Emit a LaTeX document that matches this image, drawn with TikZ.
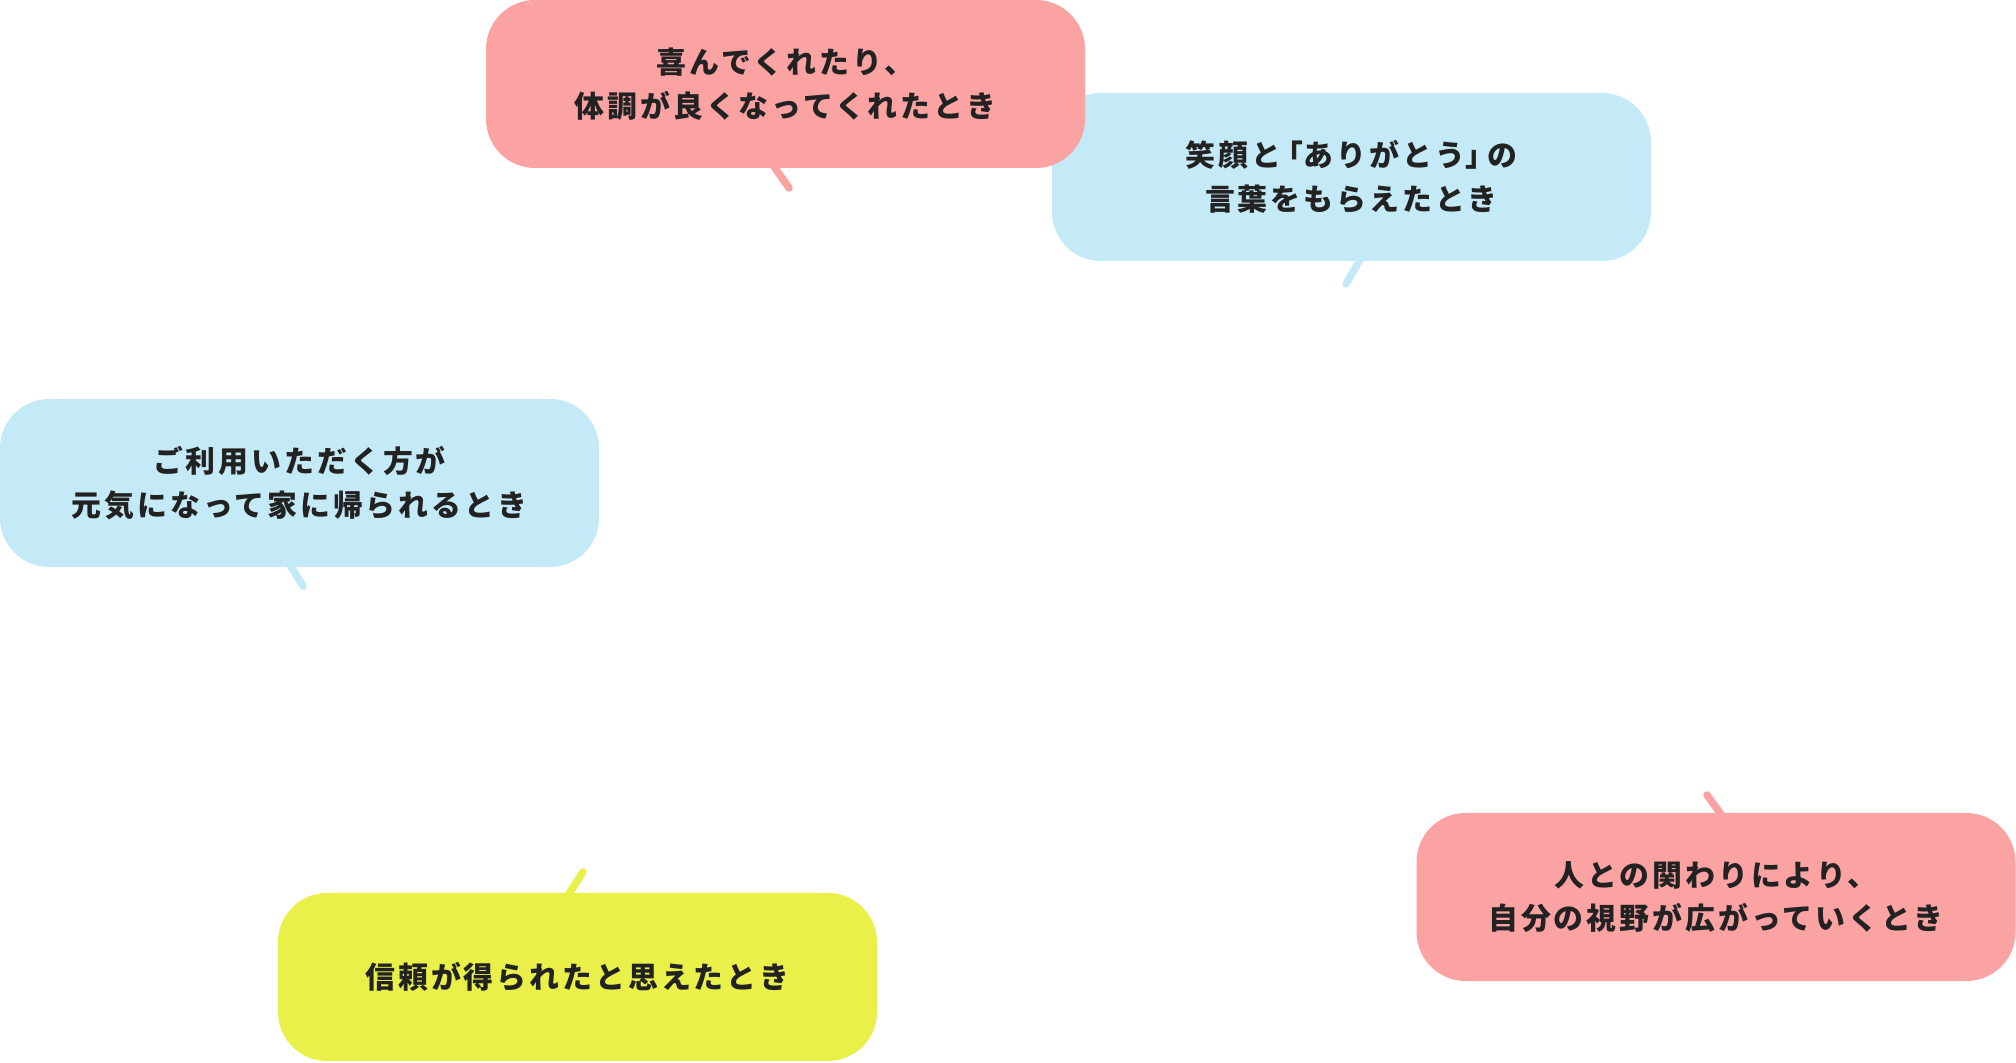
\documentclass[tikz,border=0pt]{standalone}
\usepackage{fontspec}
\newfontfamily\jpfont[LetterSpace=10]{Noto Sans CJK JP}
\newcommand{\halfbr}[1]{{\addfontfeature{RawFeature=+halt}#1}}
\definecolor{bubblepink}{HTML}{FBA2A2}
\definecolor{bubbleblue}{HTML}{C5EAF7}
\definecolor{bubbleyellow}{HTML}{E9F04A}
\definecolor{textdark}{HTML}{222222}
\tikzset{
	bubble/.style={rounded corners=0.98cm, minimum width=11.98cm, minimum height=3.36cm,
		inner sep=0pt, align=center, text=textdark,
		font=\jpfont\bfseries\fontsize{17}{24.8}\selectfont},
	tail/.style={line width=0.15cm, line cap=round}
}
\begin{document}
\begin{tikzpicture}
		\useasboundingbox (0,0) rectangle (40.32,21.24);
		
		% tails
		\coordinate (yorokobiIn) at (15.36,18.08);
		\coordinate (yorokobiOut) at (15.78,17.48);
		\coordinate (egaoIn) at (27.32,16.26);
		\coordinate (egaoOut) at (26.92,15.56);
		\coordinate (genkiIn) at (5.70,10.10);
		\coordinate (genkiOut) at (6.06,9.52);
		\coordinate (shinraiIn) at (11.26,3.18);
		\coordinate (shinraiOut) at (11.66,3.80);
		\coordinate (shiyaIn) at (34.56,4.76);
		\coordinate (shiyaOut) at (34.14,5.34);
		
		\draw [tail, bubblepink] (yorokobiIn) -- (yorokobiOut);
		\draw [tail, bubbleblue] (egaoIn) -- (egaoOut);
		\draw [tail, bubbleblue] (genkiIn) -- (genkiOut);
		\draw [tail, bubbleyellow] (shinraiIn) -- (shinraiOut);
		\draw [tail, bubblepink] (shiyaIn) -- (shiyaOut);
		
		% bubbles
		\node (egao) [bubble, fill=bubbleblue] at (27.03,17.70) {笑顔と\hspace{0.25em}\halfbr{「}ありがとう\halfbr{」}\hspace{0.25em}の\\言葉をもらえたとき};
		\node (yorokobi) [bubble, fill=bubblepink] at (15.71,19.56) {喜んでくれたり、\\体調が良くなってくれたとき};
		\node (genki) [bubble, fill=bubbleblue] at (5.99,11.58) {ご利用いただく方が\\元気になって家に帰られるとき};
		\node (shinrai) [bubble, fill=bubbleyellow] at (11.55,1.70) {信頼が得られたと思えたとき};
		\node (shiya) [bubble, fill=bubblepink] at (34.32,3.30) {人との関わりにより、\\自分の視野が広がっていくとき};
		
	\end{tikzpicture}
\end{document}
